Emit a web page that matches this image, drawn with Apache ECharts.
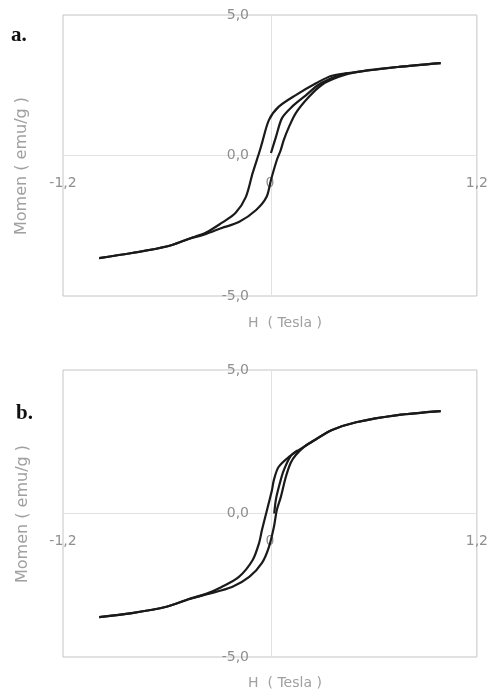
<!DOCTYPE html>
<html>
<head>
<meta charset="utf-8">
<script src="https://cdn.jsdelivr.net/npm/echarts@6/dist/echarts.min.js"></script>
<style>
  html, body { margin: 0; padding: 0; background: #fff; }
  #chart { width: 491px; height: 695px; }
</style>
</head>
<body>
<div id="chart"></div>
<script>
// tick labels (Indonesian decimal comma)
const xTicks = [-1.2, 0, 1.2];
const xTickLabels = ['-1,2', '0', '1,2'];
const yTicks = [-5, 0, 5];
const yTickLabels = ['-5,0', '0,0', '5,0'];

// panel a : [H (Tesla), Momen (emu/g)]
const virginA = [[0.006, 0.09], [0.035, 0.66], [0.07, 1.33], [0.127, 1.73], [0.21, 2.15], [0.28, 2.51], [0.37, 2.78], [0.45, 2.93]];
const descA = [[0.99, 3.29], [0.74, 3.15], [0.5, 2.97], [0.36, 2.84], [0.27, 2.58], [0.15, 2.15], [0.05, 1.73], [-0.006, 1.26],
  [-0.046, 0.44], [-0.063, 0.09], [-0.10, -0.62], [-0.14, -1.48], [-0.20, -2.05], [-0.28, -2.40], [-0.37, -2.74],
  [-0.47, -2.96], [-0.60, -3.24], [-0.80, -3.47], [-0.99, -3.65]];
const ascA = [[-0.99, -3.65], [-0.80, -3.47], [-0.60, -3.24], [-0.47, -2.97], [-0.37, -2.79], [-0.28, -2.58], [-0.18, -2.37],
  [-0.08, -1.94], [-0.02, -1.48], [0.006, -0.87], [0.04, -0.16], [0.063, 0.2], [0.08, 0.55], [0.11, 1.01], [0.15, 1.51],
  [0.225, 2.08], [0.30, 2.51], [0.40, 2.80], [0.5, 2.97], [0.74, 3.15], [0.99, 3.29]];

// panel b
const virginB = [[0.025, 0.0], [0.035, 0.5], [0.055, 1.0], [0.08, 1.5], [0.12, 2.0], [0.16, 2.2]];
const descB = [[0.99, 3.57], [0.74, 3.43], [0.5, 3.18], [0.36, 2.91], [0.265, 2.58], [0.185, 2.28], [0.11, 1.97], [0.05, 1.62],
  [0.023, 1.17], [0.012, 0.82], [-0.017, 0.12], [-0.046, -0.57], [-0.063, -1.03], [-0.10, -1.62], [-0.18, -2.21],
  [-0.28, -2.56], [-0.37, -2.80], [-0.47, -2.98], [-0.60, -3.25], [-0.80, -3.47], [-0.99, -3.61]];
const ascB = [[-0.99, -3.61], [-0.80, -3.47], [-0.60, -3.25], [-0.47, -2.99], [-0.37, -2.82], [-0.22, -2.56], [-0.12, -2.21],
  [-0.046, -1.72], [-0.006, -1.17], [0.023, -0.47], [0.04, 0.12], [0.063, 0.57], [0.092, 1.27], [0.12, 1.76], [0.15, 2.04],
  [0.2, 2.33], [0.265, 2.58], [0.36, 2.91], [0.5, 3.18], [0.74, 3.43], [0.99, 3.57]];

const labelFont = '"DejaVu Sans"';
const grey = '#8f8f8f';

// grid boxes
const grids = [
  { left: 63, top: 15, width: 416, height: 281 },
  { left: 63, top: 370, width: 416, height: 287 }
];

function pickLabel(ticks, labels) {
  return function (v) {
    for (let i = 0; i < ticks.length; i++) {
      if (Math.abs(v - ticks[i]) < 1e-6) return labels[i];
    }
    return '';
  };
}

// axes cross in the middle of the box (Excel style), so shift them inward
function makeX(gridIndex) {
  return {
    type: 'value', gridIndex: gridIndex, min: -1.2, max: 1.2, interval: 1.2,
    position: 'bottom', offset: -grids[gridIndex].height / 2,
    axisLine: { onZero: false, lineStyle: { color: '#e2e2e2', width: 1 } },
    axisTick: { show: false },
    splitLine: { show: false },
    axisLabel: {
      margin: 21, color: grey, fontSize: 14, fontFamily: labelFont,
      showMinLabel: true, showMaxLabel: true,
      formatter: pickLabel(xTicks, xTickLabels)
    }
  };
}

function makeY(gridIndex) {
  return {
    type: 'value', gridIndex: gridIndex, min: -5, max: 5, interval: 5,
    position: 'left', offset: -grids[gridIndex].width / 2,
    axisLine: { onZero: false, lineStyle: { color: '#e2e2e2', width: 1 } },
    axisTick: { show: false },
    splitLine: { show: false },
    axisLabel: {
      margin: 22, color: grey, fontSize: 14, fontFamily: labelFont,
      showMinLabel: true, showMaxLabel: true,
      formatter: pickLabel(yTicks, yTickLabels)
    }
  };
}

function branch(name, data, idx) {
  return {
    name: name, type: 'line', data: data, xAxisIndex: idx, yAxisIndex: idx,
    showSymbol: false, smooth: 0.3, silent: true,
    lineStyle: { color: '#1a1a1a', width: 2.2 }
  };
}

var chartDom = document.getElementById('chart');
var myChart = echarts.init(chartDom);
var option;

option = {
  animation: false,
  backgroundColor: '#fff',
  grid: grids.map(function (g) {
    return Object.assign({ show: true, borderColor: '#c4c4c4', borderWidth: 1, containLabel: false }, g);
  }),
  xAxis: [makeX(0), makeX(1)],
  yAxis: [makeY(0), makeY(1)],
  series: [
    branch('virgin a', virginA, 0),
    branch('turun a', descA, 0),
    branch('naik a', ascA, 0),
    branch('virgin b', virginB, 1),
    branch('turun b', descB, 1),
    branch('naik b', ascB, 1)
  ],
  graphic: [
    { type: 'text', left: 11, top: 25, style: { text: 'a.', font: 'bold 21px "Liberation Serif"', fill: '#111' } },
    { type: 'text', left: 16, top: 403, style: { text: 'b.', font: 'bold 21px "Liberation Serif"', fill: '#111' } },
    { type: 'text', x: 22, y: 166, rotation: Math.PI / 2,
      style: { text: 'Momen ( emu/g )', font: '16px "DejaVu Sans"', fill: '#a0a0a0', align: 'center', verticalAlign: 'middle' } },
    { type: 'text', x: 23, y: 514, rotation: Math.PI / 2,
      style: { text: 'Momen ( emu/g )', font: '16px "DejaVu Sans"', fill: '#a0a0a0', align: 'center', verticalAlign: 'middle' } },
    { type: 'text', x: 285, y: 323,
      style: { text: 'H  ( Tesla )', font: '14px "DejaVu Sans"', fill: '#a0a0a0', align: 'center', verticalAlign: 'middle' } },
    { type: 'text', x: 285, y: 683,
      style: { text: 'H  ( Tesla )', font: '14px "DejaVu Sans"', fill: '#a0a0a0', align: 'center', verticalAlign: 'middle' } }
  ]
};

myChart.setOption(option);
</script>
</body>
</html>
